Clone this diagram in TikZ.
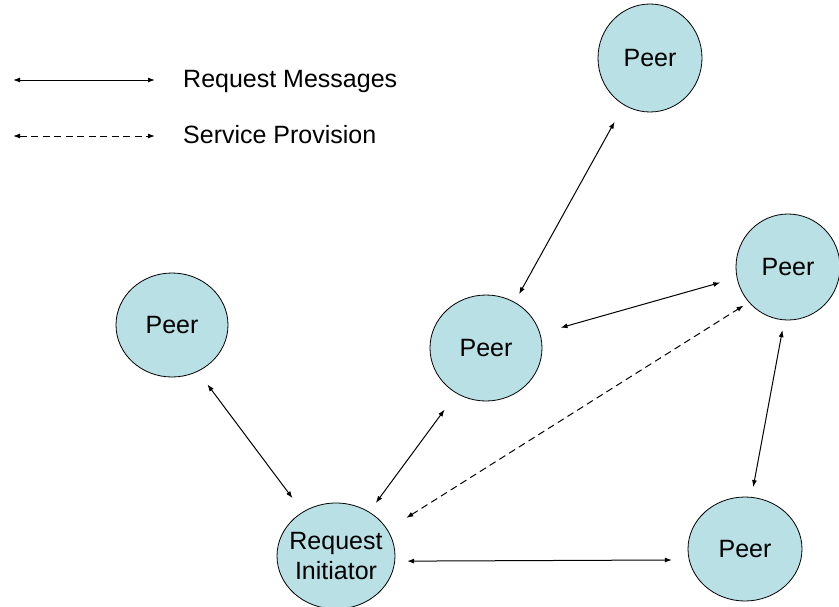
\documentclass[tikz,border=0pt]{standalone}
\usepackage{fontspec}
\setmainfont{Liberation Sans}
\usetikzlibrary{arrows.meta, shapes.geometric}
\definecolor{peerfill}{RGB}{185,224,228}

\begin{document}
\begin{tikzpicture}[x=1pt,y=-1pt,
    peer/.style={ellipse, draw, line width=0.8pt, fill=peerfill, inner sep=0pt, font=\fontsize{25}{30}\selectfont},
    legendtext/.style={anchor=base west, inner sep=0pt, font=\fontsize{25}{30}\selectfont},
    msg/.style={{Latex[length=7pt,width=5pt]}-{Latex[length=7pt,width=5pt]}, line width=1pt},
    prov/.style={msg, dash pattern=on 7pt off 4.5pt}]
                \useasboundingbox (0,0) rectangle (839,606);

                % Legend
                \coordinate (msgA) at (13,80);
                \coordinate (msgB) at (155,80);
                \draw[msg] (msgA) -- (msgB);
                \node[legendtext] (msgtext) at (183,87) {Request Messages};

                \coordinate (provA) at (13,136);
                \coordinate (provB) at (155,136);
                \draw[prov] (provA) -- (provB);
                \node[legendtext] (provtext) at (183,143) {Service Provision};

                % Peers
                \node[peer, minimum width=104pt, minimum height=108pt] (top) at (650,58) {Peer};
                \node[peer, minimum width=104pt, minimum height=106pt] (right) at (788,267) {Peer};
                \node[peer, minimum width=112pt, minimum height=106pt] (mid) at (486,348) {Peer};
                \node[peer, minimum width=112pt, minimum height=104pt] (left) at (172,325) {Peer};
                \node[peer, minimum width=114pt, minimum height=104pt] (low) at (745,549) {Peer};

                % Request initiator
                \node[peer, align=center, inner xsep=-6pt, minimum width=118pt, minimum height=106pt] (init) at (336,556) {Request\\Initiator};

                % Request messages
                \draw[msg, shorten <=19pt, shorten >=9pt] (top.-119) -- (mid.58);
                \draw[msg, shorten <=21pt, shorten >=17pt] (mid.15) -- (right.192);
                \draw[msg, shorten <=10pt, shorten >=10pt] (right.-94.5) -- (low.83);
                \draw[msg, shorten <=16pt, shorten >=17pt] (left.-61) -- (init.127);
                \draw[msg, shorten <=11pt, shorten >=20pt] (init.53) -- (mid.237);
                \draw[msg, shorten <=12pt, shorten >=17pt] (init.-5) -- (low.191);

                % Service provision
                \draw[prov, shorten <=22pt, shorten >=6pt] (init.27) -- (right.222);
\end{tikzpicture}
\end{document}
